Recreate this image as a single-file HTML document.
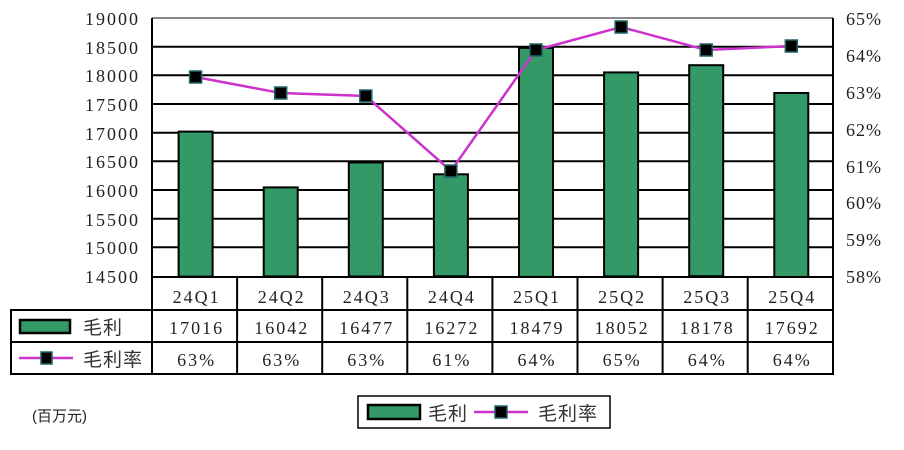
<!DOCTYPE html>
<html><head><meta charset="utf-8"><style>
body{margin:0;background:#fff;}
svg{display:block;font-family:"Liberation Serif","Noto Serif CJK SC",serif;}
.n{letter-spacing:2px;}
.cj{font-family:"Liberation Sans","Noto Sans CJK SC",sans-serif;letter-spacing:1px;}
</style></head><body>
<svg width="904" height="450" viewBox="0 0 904 450">
<g font-size="18" fill="#222">
<line x1="152" y1="18" x2="833" y2="18" stroke="#888" stroke-width="2"/>
<g stroke="#000" stroke-width="2">
<line x1="152" y1="46.7" x2="833" y2="46.7"/><line x1="152" y1="75.3" x2="833" y2="75.3"/>
<line x1="152" y1="104" x2="833" y2="104"/><line x1="152" y1="132.7" x2="833" y2="132.7"/>
<line x1="152" y1="161.3" x2="833" y2="161.3"/><line x1="152" y1="190" x2="833" y2="190"/>
<line x1="152" y1="218.7" x2="833" y2="218.7"/><line x1="152" y1="247.3" x2="833" y2="247.3"/>
<line x1="152" y1="18" x2="152" y2="310"/><line x1="833" y1="18" x2="833" y2="374"/>
</g>
<g text-anchor="end" class="n">
<text x="140" y="25">19000</text><text x="140" y="54">18500</text><text x="140" y="82">18000</text>
<text x="140" y="111">17500</text><text x="140" y="140">17000</text><text x="140" y="168">16500</text>
<text x="140" y="197">16000</text><text x="140" y="226">15500</text><text x="140" y="254">15000</text>
<text x="140" y="283">14500</text>
</g>
<g class="n" style="letter-spacing:1px">
<text x="846" y="25">65%</text><text x="846" y="62">64%</text><text x="846" y="99">63%</text>
<text x="846" y="136">62%</text><text x="846" y="173">61%</text><text x="846" y="209">60%</text>
<text x="846" y="246">59%</text><text x="846" y="283">58%</text>
</g>
<g fill="#339966" stroke="#000" stroke-width="2">
<rect x="178.6" y="131.6" width="34" height="145"/>
<rect x="263.7" y="187.4" width="34" height="89"/>
<rect x="348.8" y="162.5" width="34" height="114"/>
<rect x="433.9" y="174.3" width="34" height="102"/>
<rect x="519" y="47.9" width="34" height="229"/>
<rect x="604.1" y="72.4" width="34" height="204"/>
<rect x="689.2" y="65.2" width="34" height="211"/>
<rect x="774.3" y="93" width="34" height="184"/>
</g>
<polyline points="195.6,77 280.7,93 365.8,96 450.9,171 536,50 621.1,27 706.2,50 791.3,46" fill="none" stroke="#cc33cc" stroke-width="2.5"/>
<g fill="#000" stroke="#226666" stroke-width="1.5">
<rect x="189.6" y="71" width="12" height="12"/><rect x="274.7" y="87" width="12" height="12"/>
<rect x="359.8" y="90" width="12" height="12"/><rect x="444.9" y="165" width="12" height="12"/>
<rect x="530" y="44" width="12" height="12"/><rect x="615.1" y="21" width="12" height="12"/>
<rect x="700.2" y="44" width="12" height="12"/><rect x="785.3" y="40" width="12" height="12"/>
</g>
<g stroke="#000" stroke-width="2" fill="none">
<line x1="152" y1="277" x2="833" y2="277"/>
<rect x="11" y="310" width="822" height="64"/>
<line x1="11" y1="342" x2="833" y2="342"/>
<line x1="237.1" y1="277" x2="237.1" y2="374"/><line x1="322.2" y1="277" x2="322.2" y2="374"/>
<line x1="407.3" y1="277" x2="407.3" y2="374"/><line x1="492.4" y1="277" x2="492.4" y2="374"/>
<line x1="577.5" y1="277" x2="577.5" y2="374"/><line x1="662.6" y1="277" x2="662.6" y2="374"/>
<line x1="747.7" y1="277" x2="747.7" y2="374"/><line x1="152" y1="277" x2="152" y2="374"/>
</g>
<g text-anchor="middle" class="n">
<text x="196.6" y="303">24Q1</text><text x="281.7" y="303">24Q2</text><text x="366.8" y="303">24Q3</text><text x="451.9" y="303">24Q4</text>
<text x="537" y="303">25Q1</text><text x="622.1" y="303">25Q2</text><text x="707.2" y="303">25Q3</text><text x="792.3" y="303">25Q4</text>
<text x="196.6" y="334">17016</text><text x="281.7" y="334">16042</text><text x="366.8" y="334">16477</text><text x="451.9" y="334">16272</text>
<text x="537" y="334">18479</text><text x="622.1" y="334">18052</text><text x="707.2" y="334">18178</text><text x="792.3" y="334">17692</text>
<text x="196.6" y="366">63%</text><text x="281.7" y="366">63%</text><text x="366.8" y="366">63%</text><text x="451.9" y="366">61%</text>
<text x="537" y="366">64%</text><text x="622.1" y="366">65%</text><text x="707.2" y="366">64%</text><text x="792.3" y="366">64%</text>
</g>
<rect x="20" y="320" width="50" height="13" fill="#339966" stroke="#000" stroke-width="2.5"/>
<text x="83" y="334" class="cj" fill="#333" font-size="19">毛利</text>
<line x1="19" y1="358" x2="73" y2="358" stroke="#cc33cc" stroke-width="2.5"/>
<rect x="41" y="352" width="11" height="12" fill="#000" stroke="#226666" stroke-width="1.5"/>
<text x="83" y="366" class="cj" fill="#333" font-size="19">毛利率</text>
<text x="32" y="421" class="cj" font-size="15" style="letter-spacing:0">(百万元)</text>
<rect x="358" y="396" width="252" height="32" fill="#fff" stroke="#000" stroke-width="1.5"/>
<rect x="368" y="405" width="52" height="14" fill="#339966" stroke="#000" stroke-width="2.5"/>
<text x="428" y="420" class="cj" fill="#333" font-size="19">毛利</text>
<line x1="474" y1="412" x2="528" y2="412" stroke="#cc33cc" stroke-width="2.5"/>
<rect x="495" y="406" width="12" height="12" fill="#000" stroke="#226666" stroke-width="1.5"/>
<text x="538" y="420" class="cj" fill="#333" font-size="19">毛利率</text>
</g>
</svg>
</body></html>
